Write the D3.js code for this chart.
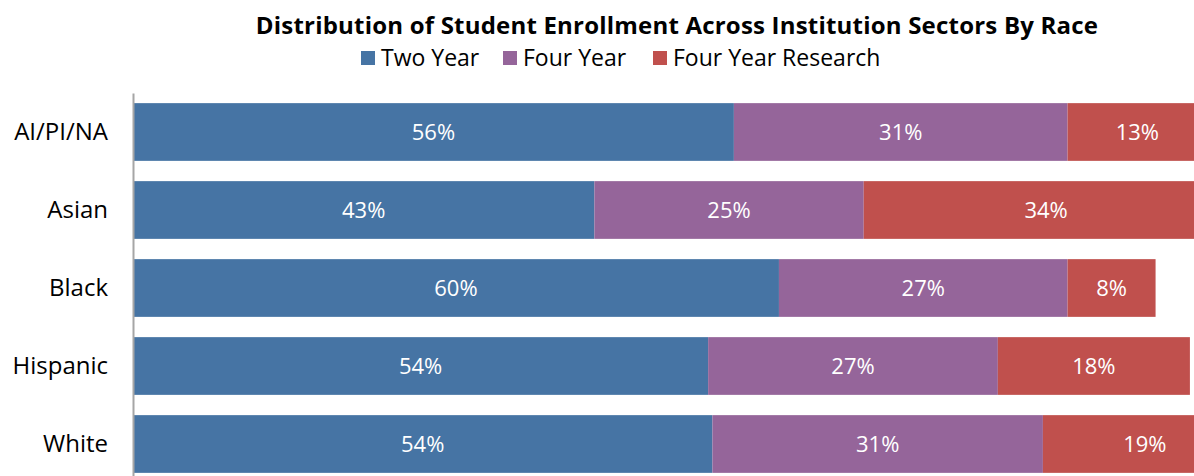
<!DOCTYPE html>
<html>
<head>
<meta charset="utf-8">
<script src="https://cdn.jsdelivr.net/npm/d3@7"></script>
<style>
  html, body { margin: 0; padding: 0; background: #fff; overflow: hidden; }
  svg { display: block; font-family: "Open Sans", Lato, sans-serif; }
</style>
</head>
<body>
<div id="chart"></div>
<script>
/*Chart data*/
const races = ["AI/PI/NA", "Asian", "Black", "Hispanic", "White"];
const sectors = ["Two Year", "Four Year", "Four Year Research"];
const twoYear = [56.0, 43.0, 60.2, 53.6, 54.0];
const fourYear = [31.1, 25.1, 26.9, 27.0, 30.8];
const fourYearResearch = [13.0, 34.0, 8.2, 17.9, 19.0];

const colors = ["#4674a4", "#95659a", "#c0504d"];

const width = 1194;
const height = 476;

/*stack the three series per race*/
const rows = races.map((race, i) => ({
  race: race,
  "Two Year": twoYear[i],
  "Four Year": fourYear[i],
  "Four Year Research": fourYearResearch[i]
}));
const stacked = d3.stack().keys(sectors)(rows);

const xScale = d3.scaleLinear().domain([0, 100]).range([133, 133 + 1073]);
const yScale = d3.scaleBand().domain(races).range([93, 483]).paddingInner(0.26).paddingOuter(0.13);

const svg = d3.select("#chart")
  .append("svg")
  .attr("width", width)
  .attr("height", height);

/*title*/
svg.append("text")
  .attr("x", 677)
  .attr("y", 34)
  .attr("text-anchor", "middle")
  .style("font-size", "24px")
  .style("font-weight", "bold")
  .style("letter-spacing", "0.2px")
  .style("fill", "#000")
  .text("Distribution of Student Enrollment Across Institution Sectors By Race");

/*legend*/
const legendX = [361, 503, 653];
const legend = svg.append("g").attr("id", "legend");
sectors.forEach((s, i) => {
  legend.append("rect")
    .attr("x", legendX[i])
    .attr("y", 51)
    .attr("width", 14)
    .attr("height", 14)
    .style("fill", colors[i]);
  legend.append("text")
    .attr("x", legendX[i] + 20)
    .attr("y", 66)
    .style("font-size", "23px")
    .style("fill", "#000")
    .text(s);
});

/*bars*/
const groups = svg.selectAll("g.series")
  .data(stacked)
  .enter()
  .append("g")
  .attr("class", "series")
  .style("fill", (d, i) => colors[i]);

groups.selectAll("rect")
  .data(d => d)
  .enter()
  .append("rect")
  .attr("x", d => xScale(d[0]))
  .attr("y", d => yScale(d.data.race))
  .attr("width", d => xScale(d[1]) - xScale(d[0]))
  .attr("height", yScale.bandwidth());

groups.selectAll("text")
  .data(d => d)
  .enter()
  .append("text")
  .attr("x", d => (xScale(d[0]) + xScale(d[1])) / 2)
  .attr("y", d => yScale(d.data.race) + yScale.bandwidth() / 2 + 8)
  .attr("text-anchor", "middle")
  .style("fill", "#fff")
  .style("font-size", "22px")
  .text(d => Math.round(d[1] - d[0]) + "%");

/*y axis*/
const yAxis = d3.axisLeft(yScale).tickSize(0).tickPadding(25);
const yG = svg.append("g")
  .attr("transform", "translate(133,0)")
  .call(yAxis);
yG.select(".domain").attr("stroke", "#a6a6a6").attr("stroke-width", 2);
yG.selectAll("text")
  .style("font-size", "24px")
  .style("font-family", "'Open Sans', Lato, sans-serif")
  .style("fill", "#000");
</script>
</body>
</html>
